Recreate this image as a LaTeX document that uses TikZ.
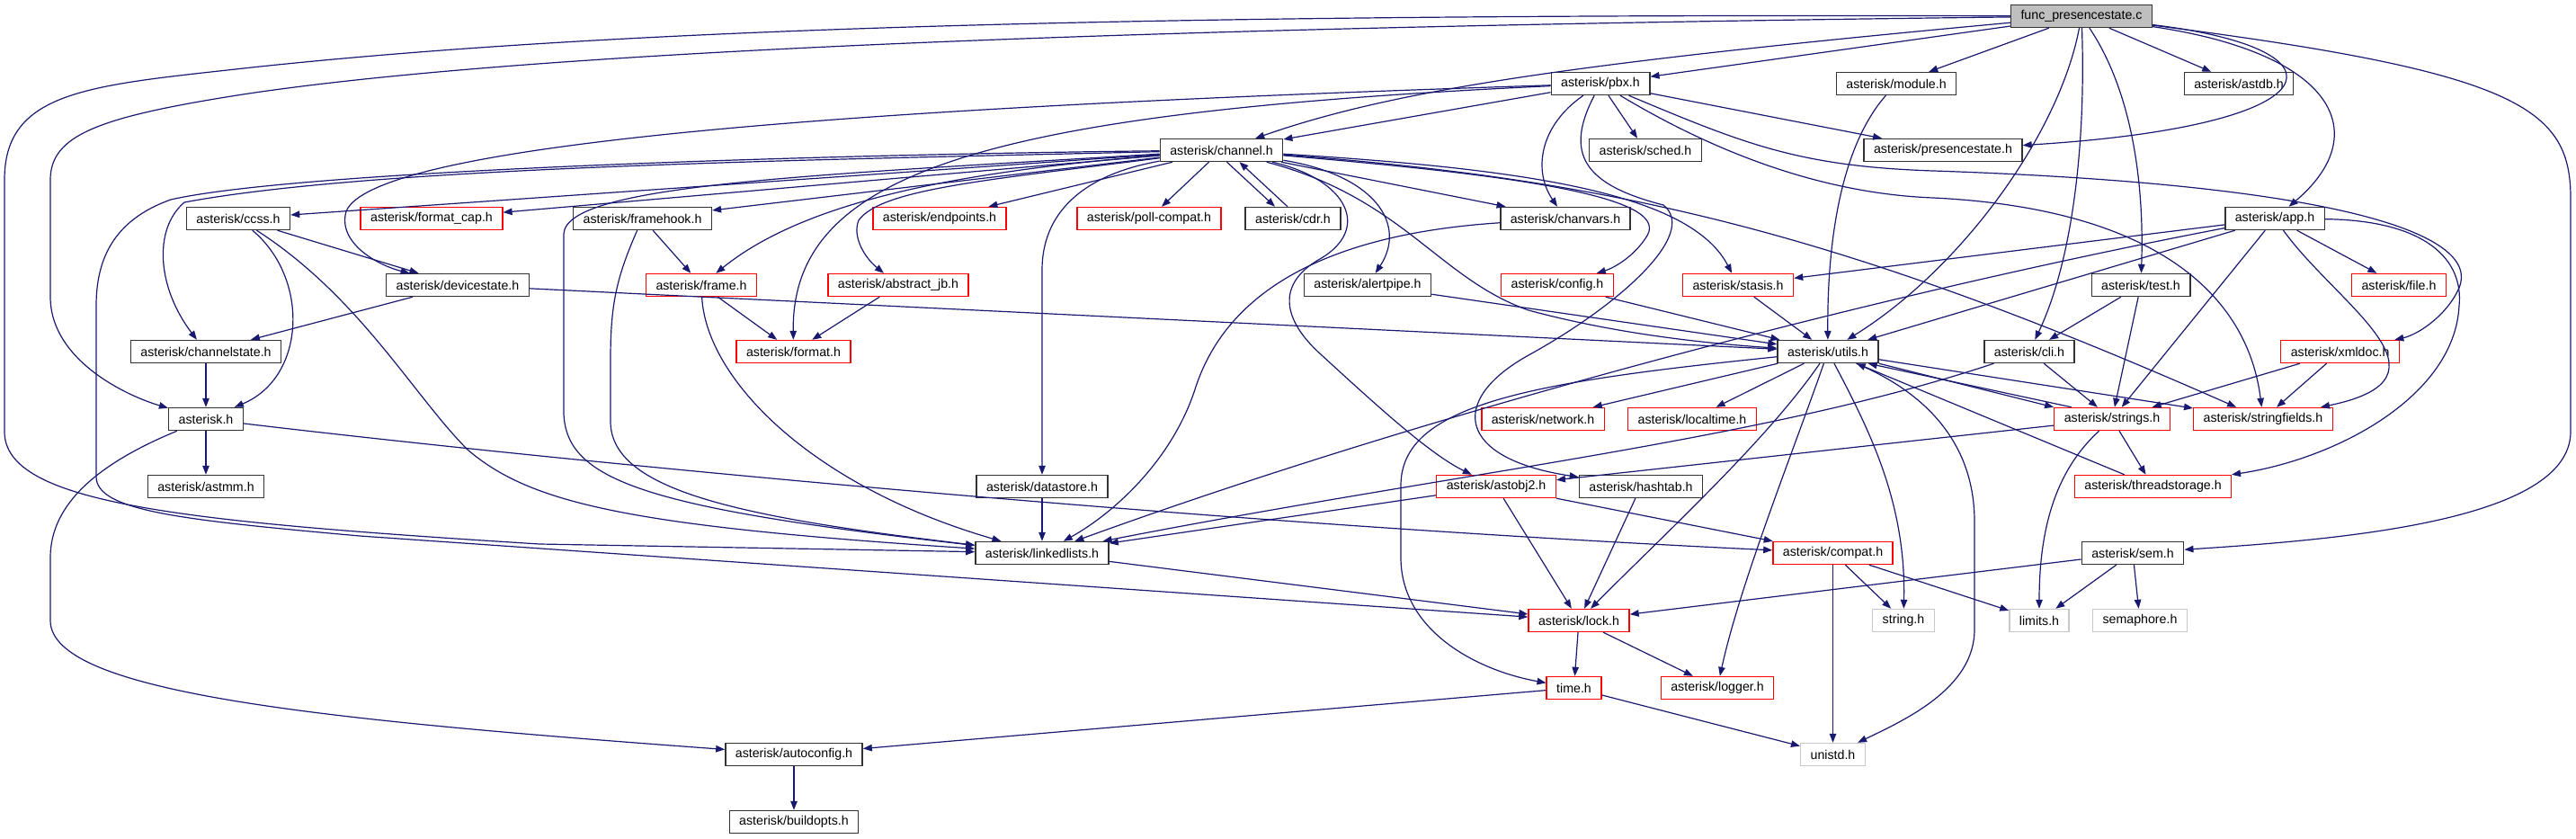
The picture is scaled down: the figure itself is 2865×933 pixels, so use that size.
\documentclass[tikz,border=0pt]{standalone}
\usepackage{fontspec}
\setmainfont{Liberation Sans}
\definecolor{edgeblue}{RGB}{25,25,112}
\definecolor{rootgray}{RGB}{191,191,191}
\definecolor{sysgray}{RGB}{200,200,200}
\definecolor{hdrred}{RGB}{255,0,0}
\usetikzlibrary{arrows.meta, calc}
\tikzset{
	hdr/.style={rectangle, draw=black!80, fill=white, line width=1.4pt, minimum height=25pt, inner xsep=11pt, inner ysep=0pt, font=\fontsize{14.2}{16}\selectfont},
	redhdr/.style={hdr, draw=hdrred},
	syshdr/.style={hdr, draw=sysgray},
	roothdr/.style={hdr, fill=rootgray},
	arrow/.style={-{Triangle[length=10pt,width=7.5pt]}, line width=1.2pt, draw=edgeblue},
}
\begin{document}
\begin{tikzpicture}[x=1pt, y=-1pt]
	\fill[white] (0,0) rectangle (2865,933);
	\useasboundingbox (0,0) rectangle (2865,933);
	\node[roothdr] (fp) at (2315,18) {func\_presencestate.c};
	\node[hdr] (pbx) at (1780,93) {asterisk/pbx.h};
	\node[hdr] (module) at (2109,93) {asterisk/module.h};
	\node[hdr] (astdb) at (2490,93) {asterisk/astdb.h};
	\node[hdr] (channel) at (1358.5,167) {asterisk/channel.h};
	\node[hdr] (sched) at (1830,167) {asterisk/sched.h};
	\node[hdr] (presence) at (2161,167) {asterisk/presencestate.h};
	\node[hdr] (ccss) at (265,243) {asterisk/ccss.h};
	\node[redhdr] (fmtcap) at (480,243) {asterisk/format\_cap.h};
	\node[hdr] (framehook) at (714.5,243) {asterisk/framehook.h};
	\node[redhdr] (endpoints) at (1045,243) {asterisk/endpoints.h};
	\node[redhdr] (pollcompat) at (1278,243) {asterisk/poll-compat.h};
	\node[hdr] (cdr) at (1438,243) {asterisk/cdr.h};
	\node[hdr] (chanvars) at (1741,243) {asterisk/chanvars.h};
	\node[hdr] (app) at (2530,243) {asterisk/app.h};
	\node[hdr] (devstate) at (509,317) {asterisk/devicestate.h};
	\node[redhdr] (frame) at (780,317) {asterisk/frame.h};
	\node[redhdr] (abstractjb) at (999,317) {asterisk/abstract\_jb.h};
	\node[hdr] (alertpipe) at (1521,317) {asterisk/alertpipe.h};
	\node[redhdr] (config) at (1732,317) {asterisk/config.h};
	\node[redhdr] (stasis) at (1933,317) {asterisk/stasis.h};
	\node[hdr] (test) at (2381,317) {asterisk/test.h};
	\node[redhdr] (file) at (2668,317) {asterisk/file.h};
	\node[hdr] (chanstate) at (229,391) {asterisk/channelstate.h};
	\node[redhdr] (format) at (882.5,391) {asterisk/format.h};
	\node[hdr] (utils) at (2033,391) {asterisk/utils.h};
	\node[hdr] (cli) at (2257,391) {asterisk/cli.h};
	\node[redhdr] (xmldoc) at (2602.6,391) {asterisk/xmldoc.h};
	\node[hdr] (asterisk) at (229,466) {asterisk.h};
	\node[redhdr] (network) at (1716,466) {asterisk/network.h};
	\node[redhdr] (localtime) at (1882,466) {asterisk/localtime.h};
	\node[redhdr] (strings) at (2349,466) {asterisk/strings.h};
	\node[redhdr] (strfields) at (2517,466) {asterisk/stringfields.h};
	\node[hdr] (astmm) at (229,541) {asterisk/astmm.h};
	\node[hdr] (datastore) at (1159,541) {asterisk/datastore.h};
	\node[redhdr] (astobj) at (1664,541) {asterisk/astobj2.h};
	\node[hdr] (hashtab) at (1825,541) {asterisk/hashtab.h};
	\node[redhdr] (tstorage) at (2394.5,541) {asterisk/threadstorage.h};
	\node[hdr] (llists) at (1159,615) {asterisk/linkedlists.h};
	\node[redhdr] (compat) at (2038.5,615) {asterisk/compat.h};
	\node[hdr] (sem) at (2372,615) {asterisk/sem.h};
	\node[redhdr] (lock) at (1756,690) {asterisk/lock.h};
	\node[syshdr] (string) at (2117,690) {string.h};
	\node[syshdr] (limits) at (2268,690) {limits.h};
	\node[syshdr] (semaphore) at (2380,690) {semaphore.h};
	\node[redhdr] (time) at (1750.5,765) {time.h};
	\node[redhdr] (logger) at (1910,765) {asterisk/logger.h};
	\node[hdr] (autoconfig) at (883,839) {asterisk/autoconfig.h};
	\node[syshdr] (unistd) at (2038.5,839) {unistd.h};
	\node[hdr] (buildopts) at (883,914) {asterisk/buildopts.h};
	\draw[arrow] (fp) -- (pbx);
	\draw[arrow] (fp) .. controls (1750,70) and (1550,100) .. (channel);
	\draw[arrow] (fp) -- (module);
	\draw[arrow] (fp) -- (astdb);
	\draw[arrow] (fp) .. controls (2620,55) and (2600,140) .. (presence);
	\draw[arrow] (fp) .. controls (2600,60) and (2640,150) .. (app);
	\draw[arrow] (fp) .. controls (2800,80) and (2859,120) .. (2859,220) -- (2859,480) .. controls (2859,580) and (2600,600) .. (sem);
	\draw[arrow] (fp) .. controls (2290,150) and (2180,300) .. (utils);
	\draw[arrow] (fp) .. controls (2320,160) and (2305,290) .. (cli);
	\draw[arrow] (fp) .. controls (2370,100) and (2385,200) .. (test);
	\draw[arrow] (fp) .. controls (1300,30) and (600,55) .. (270,105) .. controls (110,130) and (56,150) .. (56,200) -- (56,330) .. controls (56,400) and (140,440) .. (asterisk);
	\draw[arrow] (fp) .. controls (1300,15) and (700,30) .. (280,75) .. controls (100,95) and (5,100) .. (5,200) -- (5,480) .. controls (5,560) and (200,580) .. (600,605) -- (llists);
	\draw[arrow] (pbx) -- (channel);
	\draw[arrow] (pbx) .. controls (1100,115) and (420,150) .. (385,235) .. controls (375,270) and (420,295) .. (devstate);
	\draw[arrow] (pbx) .. controls (1100,125) and (880,190) .. (format);
	\draw[arrow] (pbx) -- (sched);
	\draw[arrow] (pbx) -- (presence);
	\draw[arrow] (pbx) .. controls (1712,140) and (1705,190) .. (chanvars);
	\draw[arrow] (pbx) .. controls (1740,170) and (1760,205) .. (1850,228) .. controls (1890,260) and (1800,340) .. (1700,395) .. controls (1610,445) and (1620,510) .. (hashtab);
	\draw[arrow] (pbx) .. controls (1900,165) and (2020,215) .. (2150,220) .. controls (2400,232) and (2500,330) .. (strfields);
	\draw[arrow] (pbx) .. controls (1940,160) and (2000,185) .. (2150,190) .. controls (2600,205) and (2760,260) .. (2735,320) .. controls (2722,350) and (2690,372) .. (xmldoc);
	\draw[arrow] (channel) -- (ccss);
	\draw[arrow] (channel) -- (fmtcap);
	\draw[arrow] (channel) -- (framehook);
	\draw[arrow] (channel) -- (endpoints);
	\draw[arrow] (channel) -- (pollcompat);
	\draw[arrow] ([xshift=6pt]channel.south) -- ([xshift=-20pt]cdr.north);
	\draw[arrow] ([xshift=-6pt]cdr.north) -- ([xshift=20pt]channel.south);
	\draw[arrow] (channel) -- (chanvars);
	\draw[arrow] (channel) .. controls (1530,195) and (1565,250) .. (alertpipe);
	\draw[arrow] (channel) .. controls (1650,192) and (1860,215) .. (1832,262) .. controls (1818,285) and (1795,298) .. (config);
	\draw[arrow] (channel) .. controls (1700,188) and (1880,215) .. (stasis);
	\draw[arrow] (channel) .. controls (1800,200) and (2050,260) .. (strfields);
	\draw[arrow] (channel) .. controls (1560,220) and (1600,310) .. (1700,345) .. controls (1800,372) and (1900,382) .. (utils);
	\draw[arrow] (channel) .. controls (1200,195) and (1159,240) .. (1159,300) -- (datastore);
	\draw[arrow] (channel) .. controls (1500,200) and (1525,255) .. (1468,288) .. controls (1420,315) and (1425,355) .. (1470,395) .. controls (1530,450) and (1590,505) .. (astobj);
	\draw[arrow] (channel) .. controls (1080,190) and (900,220) .. (frame);
	\draw[arrow] (channel) .. controls (1100,200) and (980,210) .. (955,245) .. controls (948,262) and (960,285) .. (abstractjb);
	\draw[arrow] (channel) .. controls (900,178) and (420,185) .. (205,225) .. controls (170,255) and (175,320) .. (chanstate);
	\draw[arrow] (channel) .. controls (900,172) and (330,190) .. (190,222) .. controls (125,245) and (107,290) .. (107,340) -- (107,530) .. controls (107,568) and (200,578) .. (400,596) -- (lock);
	\draw[arrow] (channel) .. controls (900,195) and (630,205) .. (627,260) -- (627,460) .. controls (630,535) and (720,565) .. (llists);
	\draw[arrow] (ccss) -- (devstate);
	\draw[arrow] (ccss) .. controls (345,310) and (340,420) .. (asterisk);
	\draw[arrow] (ccss) .. controls (400,330) and (460,440) .. (520,500) .. controls (590,560) and (700,585) .. (llists);
	\draw[arrow] (devstate) -- (chanstate);
	\draw[arrow] (devstate) -- (utils);
	\draw[arrow] (framehook) -- (frame);
	\draw[arrow] (framehook) .. controls (685,310) and (679,340) .. (679,400) -- (679,470) .. controls (681,545) and (820,575) .. (llists);
	\draw[arrow] (frame) -- (format);
	\draw[arrow] (frame) .. controls (785,420) and (900,540) .. (llists);
	\draw[arrow] (abstractjb) -- (format);
	\draw[arrow] (chanstate) -- (asterisk);
	\draw[arrow] (asterisk) -- (astmm);
	\draw[arrow] (asterisk) .. controls (600,510) and (1300,580) .. (compat);
	\draw[arrow] (asterisk) .. controls (110,515) and (56,560) .. (56,620) -- (56,690) .. controls (56,770) and (350,800) .. (autoconfig);
	\draw[arrow] (autoconfig) -- (buildopts);
	\draw[arrow] (module) .. controls (2050,160) and (2032,260) .. (utils);
	\draw[arrow] (app) -- (file);
	\draw[arrow] (app) -- (stasis);
	\draw[arrow] (app) -- (utils);
	\draw[arrow] (app) .. controls (2100,325) and (1600,455) .. (llists);
	\draw[arrow] (app) -- (strings);
	\draw[arrow] (app) .. controls (2600,340) and (2740,420) .. (strfields);
	\draw[arrow] (app) .. controls (2700,245) and (2740,290) .. (2735,340) .. controls (2730,440) and (2600,510) .. (tstorage);
	\draw[arrow] (test) -- (cli);
	\draw[arrow] (test) -- (strings);
	\draw[arrow] (cli) -- (strings);
	\draw[arrow] (cli) .. controls (1960,490) and (1620,525) .. (llists);
	\draw[arrow] (xmldoc) -- (strings);
	\draw[arrow] (xmldoc) -- (strfields);
	\draw[arrow] (utils.south east) -- (strings.north west);
	\draw[arrow] ([xshift=20pt]strings.north west) -- ([xshift=-12pt]utils.south east);
	\draw[arrow] (utils) -- (strfields);
	\draw[arrow] (tstorage) -- (utils);
	\draw[arrow] (strings) -- (tstorage);
	\draw[arrow] (strings) .. controls (2290,520) and (2268,580) .. (limits);
	\draw[arrow] (strings) -- (astobj);
	\draw[arrow] (utils) -- (network);
	\draw[arrow] (utils) -- (localtime);
	\draw[arrow] (utils) .. controls (1965,490) and (1850,595) .. (lock);
	\draw[arrow] (utils) .. controls (1995,500) and (1935,650) .. (logger);
	\draw[arrow] (utils) .. controls (2080,480) and (2120,560) .. (string);
	\draw[arrow] (utils) .. controls (2150,440) and (2196,500) .. (2196,580) -- (2196,700) .. controls (2196,765) and (2120,800) .. (unistd);
	\draw[arrow] (utils) .. controls (1700,425) and (1558,450) .. (1558,540) -- (1558,620) .. controls (1558,700) and (1640,745) .. (time);
	\draw[arrow] (stasis) -- (utils);
	\draw[arrow] (config) -- (utils);
	\draw[arrow] (alertpipe) -- (utils);
	\draw[arrow] (chanvars) .. controls (1450,262) and (1360,340) .. (1330,430) .. controls (1305,510) and (1240,570) .. (llists);
	\draw[arrow] (datastore) -- (llists);
	\draw[arrow] (astobj) -- (llists);
	\draw[arrow] (astobj) -- (lock);
	\draw[arrow] (astobj) -- (compat);
	\draw[arrow] (hashtab) -- (lock);
	\draw[arrow] (llists) -- (lock);
	\draw[arrow] (compat) -- (string);
	\draw[arrow] (compat) -- (limits);
	\draw[arrow] (compat) -- (unistd);
	\draw[arrow] (sem) -- (lock);
	\draw[arrow] (sem) -- (limits);
	\draw[arrow] (sem) -- (semaphore);
	\draw[arrow] (lock) -- (time);
	\draw[arrow] (lock) -- (logger);
	\draw[arrow] (time) -- (autoconfig);
	\draw[arrow] (time) -- (unistd);
\end{tikzpicture}
\end{document}
